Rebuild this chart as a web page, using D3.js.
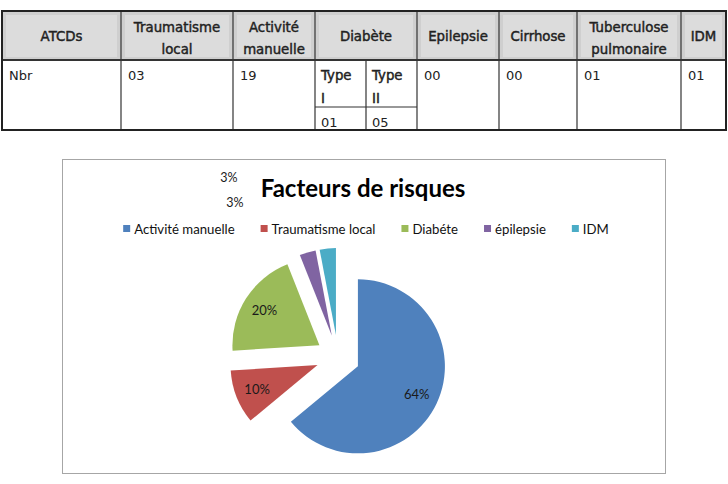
<!DOCTYPE html>
<html>
<head>
<meta charset="utf-8">
<script src="https://d3js.org/d3.v7.min.js"></script>
<style>
  body { margin: 0; background: #fff; }
</style>
</head>
<body>
<div id="chart"></div>
<script>
// table data
var tableHeaders = ["ATCDs", "Traumatisme|local", "Activité|manuelle", "Diabète", "Epilepsie", "Cirrhose", "Tuberculose|pulmonaire", "IDM"];
var tableRow = ["Nbr", "03", "19", null, "00", "00", "01", "01"];
var diabeteTypes = ["Type|I", "Type|II"];
var diabeteCounts = ["01", "05"];

// pie data
var categories = ["Activité manuelle", "Traumatisme local", "Diabéte", "épilepsie", "IDM"];
var values = [64, 10, 20, 3, 3];
var percentLabels = ["64%", "10%", "20%", "3%", "3%"];
var colors = ["#4f81bd", "#c0504d", "#9bbb59", "#8064a2", "#4bacc6"];

var W = 728, H = 484;
var svg = d3.select("#chart").append("svg")
    .attr("width", W)
    .attr("height", H);

// ---------- table ----------
// column edges (header columns; diabète split in two for the body)
var colEdges = [2, 121, 233, 315, 417, 499, 577, 681, 726];
var diabSplit = 366;
var rowTop = 11, rowHead = 60, rowSub = 107, rowBot = 130;
var tfont = "'DejaVu Sans', Verdana, sans-serif";

var table = svg.append("g");

// header background
tableHeaders.forEach(function(h, i) {
    var x0 = colEdges[i], x1 = colEdges[i + 1];
    table.append("rect")
        .attr("x", x0).attr("y", rowTop)
        .attr("width", x1 - x0).attr("height", rowHead - rowTop)
        .attr("fill", "#cfcfcf");
    table.append("rect")
        .attr("x", x0 + 4).attr("y", rowTop + 4)
        .attr("width", x1 - x0 - 8).attr("height", rowHead - rowTop - 7)
        .attr("fill", "#dcdcdc");
});

// semi-bold look: regular face with a thin outline
function semibold(sel) {
    return sel.attr("stroke", "#222").attr("stroke-width", 0.45);
}

// header text
tableHeaders.forEach(function(h, i) {
    var cx = (colEdges[i] + colEdges[i + 1]) / 2;
    var lines = h.split("|");
    var t = table.append("text")
        .attr("text-anchor", "middle")
        .attr("font-family", tfont)
        .attr("font-size", "13.3px")
        .attr("fill", "#222");
    semibold(t);
    if (lines.length == 1) {
        t.append("tspan").attr("x", cx).attr("y", 41).text(lines[0]);
    } else {
        t.append("tspan").attr("x", cx).attr("y", 32).text(lines[0]);
        t.append("tspan").attr("x", cx).attr("y", 54).text(lines[1]);
    }
});

// body text
tableRow.forEach(function(v, i) {
    if (v === null) return;
    table.append("text")
        .attr("x", colEdges[i] + 7)
        .attr("y", 80)
        .attr("font-family", tfont)
        .attr("font-size", "13px")
        .attr("fill", "#222")
        .text(v);
});

var diabX = [colEdges[3], diabSplit];
diabeteTypes.forEach(function(v, i) {
    var lines = v.split("|");
    var t = table.append("text")
        .attr("font-family", tfont)
        .attr("font-size", "13.3px")
        .attr("fill", "#222");
    semibold(t);
    t.append("tspan").attr("x", diabX[i] + 6).attr("y", 80).text(lines[0]);
    t.append("tspan").attr("x", diabX[i] + 6).attr("y", 103).text(lines[1]);
});
diabeteCounts.forEach(function(v, i) {
    table.append("text")
        .attr("x", diabX[i] + 6)
        .attr("y", 127)
        .attr("font-family", tfont)
        .attr("font-size", "13px")
        .attr("fill", "#222")
        .text(v);
});

// grid lines
var lineCol = "#333";
colEdges.slice(1, -1).forEach(function(x) {
    table.append("line")
        .attr("x1", x).attr("x2", x).attr("y1", rowTop).attr("y2", rowBot)
        .attr("stroke", lineCol).attr("stroke-width", 1.2);
});
table.append("line")
    .attr("x1", diabSplit).attr("x2", diabSplit).attr("y1", rowHead).attr("y2", rowBot)
    .attr("stroke", lineCol).attr("stroke-width", 1.2);
table.append("line")
    .attr("x1", colEdges[3]).attr("x2", colEdges[4]).attr("y1", rowSub).attr("y2", rowSub)
    .attr("stroke", lineCol).attr("stroke-width", 1.2);
table.append("line")
    .attr("x1", colEdges[0]).attr("x2", colEdges[8]).attr("y1", rowHead).attr("y2", rowHead)
    .attr("stroke", lineCol).attr("stroke-width", 2);
table.append("rect")
    .attr("x", colEdges[0]).attr("y", rowTop)
    .attr("width", colEdges[8] - colEdges[0]).attr("height", rowBot - rowTop)
    .attr("fill", "none").attr("stroke", "#222").attr("stroke-width", 2);

// ---------- pie chart ----------
var cfont = "Lato, 'Open Sans', sans-serif";

svg.append("rect")
    .attr("x", 62.5).attr("y", 159.5)
    .attr("width", 603).attr("height", 314)
    .attr("fill", "#fff")
    .attr("stroke", "#a6a6a6")
    .attr("stroke-width", 1);

svg.append("text")
    .attr("x", 363).attr("y", 197)
    .attr("text-anchor", "middle")
    .attr("font-family", cfont)
    .attr("font-size", "24px")
    .attr("font-weight", "bold")
    .attr("fill", "#000")
    .text("Facteurs de risques");

// legend
var legend = svg.append("g");
var lx = 0;
var gap = 26;
categories.forEach(function(c, i) {
    var g = legend.append("g").attr("transform", "translate(" + lx + ",0)");
    g.append("rect")
        .attr("x", 0).attr("y", -4)
        .attr("width", 7).attr("height", 7)
        .attr("fill", colors[i]);
    var t = g.append("text")
        .attr("x", 11).attr("y", 4.5)
        .attr("font-family", cfont)
        .attr("font-size", "13.2px")
        .attr("fill", "#111")
        .text(c);
    var w = t.node().getComputedTextLength();
    lx += 11 + w + gap;
});
var legendW = lx - gap;
legend.attr("transform", "translate(" + (366 - legendW / 2) + ",229)");

// pie
var cx = 338, cy = 357, radius = 87, explode = 22;
var pie = d3.pie().sort(null).value(function(d) { return d; });
var arc = d3.arc().innerRadius(0).outerRadius(radius);
var labelArc = d3.arc().innerRadius(65).outerRadius(65);
var arcs = pie(values);

var pieG = svg.append("g").attr("transform", "translate(" + cx + "," + cy + ")");

function offset(d) {
    var a = (d.startAngle + d.endAngle) / 2;
    return [explode * Math.sin(a), -explode * Math.cos(a)];
}

var slices = pieG.selectAll("g.slice")
    .data(arcs)
    .enter()
    .append("g")
    .attr("class", "slice")
    .attr("transform", function(d) { var o = offset(d); return "translate(" + o[0] + "," + o[1] + ")"; });

slices.append("path")
    .attr("d", arc)
    .attr("fill", function(d, i) { return colors[i]; });

// labels inside big slices
slices.filter(function(d) { return d.data >= 10; })
    .append("text")
    .attr("transform", function(d) { var c = labelArc.centroid(d); return "translate(" + c[0] + "," + (c[1] + 5) + ")"; })
    .attr("text-anchor", "middle")
    .attr("font-family", cfont)
    .attr("font-size", "13px")
    .attr("fill", "#1a1a1a")
    .text(function(d) { return percentLabels[arcs.indexOf(d)]; });

// small-slice labels pushed to the top-left (best fit placement)
var smallLabelPos = [[235, 207], [229, 182]];
arcs.forEach(function(d, i) {
    if (d.data >= 10) return;
    var p = smallLabelPos[i - 3];
    svg.append("text")
        .attr("x", p[0]).attr("y", p[1])
        .attr("text-anchor", "middle")
        .attr("font-family", cfont)
        .attr("font-size", "12.5px")
        .attr("fill", "#1a1a1a")
        .text(percentLabels[i]);
});
</script>
</body>
</html>
